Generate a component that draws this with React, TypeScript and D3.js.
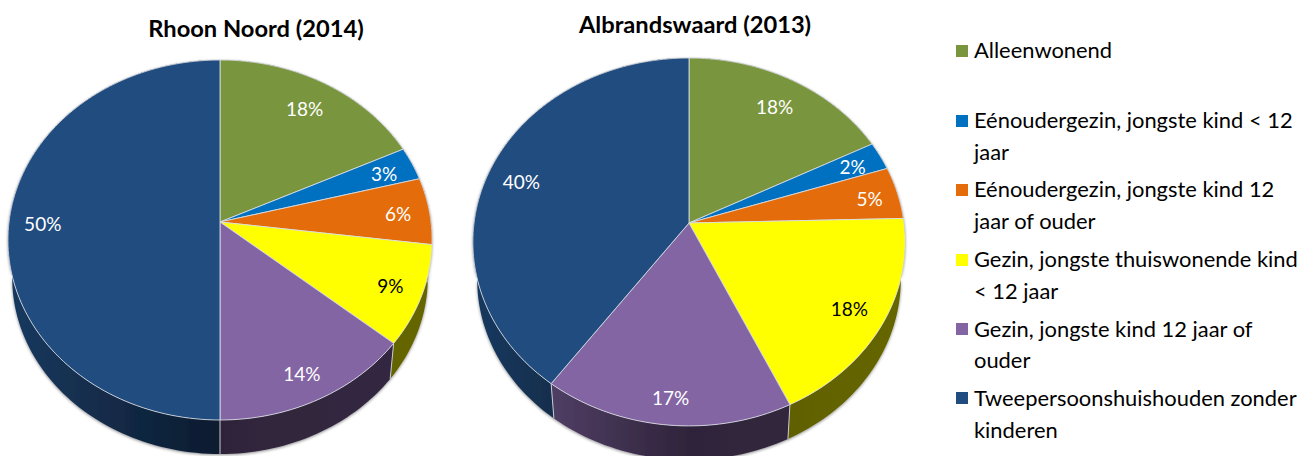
import React from "react";
import * as d3 from "d3";

const categories = [
  "Alleenwonend",
  "Eénoudergezin, jongste kind < 12 jaar",
  "Eénoudergezin, jongste kind 12 jaar of ouder",
  "Gezin, jongste thuiswonende kind < 12 jaar",
  "Gezin, jongste kind 12 jaar of ouder",
  "Tweepersoonshuishouden zonder kinderen",
];
const legendLines = [
  ["Alleenwonend"],
  ["Eénoudergezin, jongste kind < 12", "jaar"],
  ["Eénoudergezin, jongste kind 12", "jaar of ouder"],
  ["Gezin, jongste thuiswonende kind", "< 12 jaar"],
  ["Gezin, jongste kind 12 jaar of", "ouder"],
  ["Tweepersoonshuishouden zonder", "kinderen"],
];
const colors = ["#79953e", "#0070c0", "#e46c0a", "#ffff00", "#8365a4", "#214c7f"];
const labelColors = ["#fff", "#fff", "#fff", "#000", "#fff", "#fff"];

const rhoonValues = [18, 3, 6, 9, 14, 50];
const rhoonLabels = ["18%", "3%", "6%", "9%", "14%", "50%"];
const albrandValues = [17.5, 2.5, 4.6, 18.4, 17, 40];
const albrandLabels = ["18%", "2%", "5%", "18%", "17%", "40%"];

const FONT = "Lato, Carlito, Calibri, sans-serif";

type Pie = {
  id: string; title: string; titleX: number; titleY: number;
  values: number[]; labels: string[];
  cx: number; cy: number; B: number; A: number; k: number;
  fractions: number[]; nudges: number[][];
};

const pies: Pie[] = [
  {
    id: "rhoon", title: "Rhoon Noord (2014)", titleX: 256, titleY: 37,
    values: rhoonValues, labels: rhoonLabels,
    cx: 220, cy: 222, B: 211, A: 178.2, k: 0.1,
    fractions: [0.8, 0.85, 0.85, 0.85, 0.87, 0.84],
    nudges: [[0, 0], [0, 2], [0, 2], [0, 2], [-3, 0], [0, 2]],
  },
  {
    id: "albrand", title: "Albrandswaard (2013)", titleX: 695, titleY: 33,
    values: albrandValues, labels: albrandLabels,
    cx: 689, cy: 223, B: 215, A: 182, k: 0.103,
    fractions: [0.807, 0.83, 0.85, 0.857, 0.874, 0.8],
    nudges: [[1, 1], [4, 0], [3, 2], [-4, 0], [1, 1], [-8, 3]],
  },
];

const WALL_SCALE = 0.98;
const WALL_DROP = 38;

function project(p: Pie, theta: number, f = 1, wall = false): [number, number] {
  const u = Math.sin(theta) * f;
  const v = -Math.cos(theta) * f;
  const w = 1 - p.k * v;
  const s = wall ? WALL_SCALE : 1;
  return [p.cx + (s * p.B * u) / w, p.cy + (wall ? WALL_DROP : 0) + (s * p.A * v) / w];
}

const line = d3.line();
const samples = (a0: number, a1: number) => {
  const n = Math.max(2, Math.ceil(((a1 - a0) / (Math.PI * 2)) * 240));
  return d3.range(n + 1).map((i) => a0 + ((a1 - a0) * i) / n);
};
const shade = (c: string, f: number) => {
  const r = d3.rgb(c);
  return d3.rgb(r.r * f, r.g * f, r.b * f).formatHex();
};

function PieChart({ p }: { p: Pie }) {
  const arcs = d3.pie<number>().sort(null).value((d) => d)(p.values);
  return (
    <g>
      <defs>
        {colors.map((c, i) => (
          <linearGradient key={i} id={`${p.id}-wall-${i}`} gradientUnits="userSpaceOnUse"
            x1={p.cx - p.B} x2={p.cx + p.B} y1={0} y2={0}>
            <stop offset="0" stopColor={shade(c, 0.75)} />
            <stop offset="0.5" stopColor={shade(c, 0.36)} />
            <stop offset="1" stopColor={shade(c, 0.4)} />
          </linearGradient>
        ))}
      </defs>
      <g filter="url(#wallShadow)">
        {arcs.map((a, i) => {
          const th = samples(a.startAngle, a.endAngle);
          const pts = [
            ...th.map((t) => project(p, t)),
            ...th.slice().reverse().map((t) => project(p, t, 1, true)),
          ];
          return (
            <path key={i} d={line(pts as [number, number][]) + "Z"} fill={`url(#${p.id}-wall-${i})`} />
          );
        })}
      </g>
      {arcs.map((a, i) => {
        const t0 = project(p, a.startAngle);
        const t1 = project(p, a.startAngle, 1, true);
        return Math.cos(a.startAngle) < 0 ? (
          <path key={i} d={line([t0, t1]) as string} stroke="#c9ccd2" strokeWidth={1} fill="none" />
        ) : null;
      })}
      {arcs.map((a, i) => {
        const th = samples(a.startAngle, a.endAngle);
        const pts = [[p.cx, p.cy], ...th.map((t) => project(p, t))];
        return (
          <path key={i} d={line(pts as [number, number][]) + "Z"} fill={colors[i]}
            stroke="#d9dde3" strokeOpacity={0.85} strokeWidth={1} strokeLinejoin="round" />
        );
      })}
      {arcs.map((a, i) => {
        const [x, y] = project(p, (a.startAngle + a.endAngle) / 2, p.fractions[i]);
        return (
          <text key={i} x={x + p.nudges[i][0]} y={y + p.nudges[i][1]} dy="0.35em" textAnchor="middle"
            fontFamily={FONT} fontSize={19} fill={labelColors[i]}>
            {p.labels[i]}
          </text>
        );
      })}
      <text x={p.titleX} y={p.titleY} textAnchor="middle" fontFamily={FONT} fontWeight={700}
        fontSize={23.7} fill="#000">
        {p.title}
      </text>
    </g>
  );
}

const legendSwatchY = [51, 121, 190, 260, 329, 398];
const legendBaselines = [
  [58],
  [128, 160],
  [197, 229],
  [267, 299],
  [337, 368],
  [406, 438],
];

export default function App() {
  return (
    <svg width={1314} height={456} viewBox="0 0 1314 456"
      style={{ position: "absolute", left: 0, top: 0, display: "block", background: "#fff" }}>
      <defs>
        <filter id="wallShadow" x="-5%" y="-5%" width="110%" height="115%">
          <feDropShadow dx={0} dy={1} stdDeviation={1.5} floodColor="#000" floodOpacity={0.45} />
        </filter>
      </defs>
      {pies.map((p) => <PieChart key={p.id} p={p} />)}
      <g aria-label={categories.join("; ")}>
        {legendLines.map((lines, i) => (
          <g key={i}>
            <rect x={956} y={legendSwatchY[i] - 6} width={12} height={12} fill={colors[i]} />
            {lines.map((t, j) => (
              <text key={j} x={974} y={legendBaselines[i][j]} fontFamily={FONT} fontSize={21.9} fill="#000">
                {t}
              </text>
            ))}
          </g>
        ))}
      </g>
    </svg>
  );
}
